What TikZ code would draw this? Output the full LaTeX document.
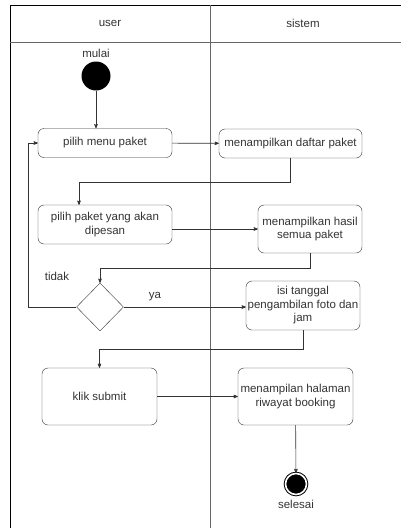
\documentclass[tikz,border=0pt]{standalone}
\usepackage{fontspec}
\setmainfont{Liberation Sans}
\usetikzlibrary{arrows,shapes.geometric}
\definecolor{inkgray}{HTML}{333333}
\definecolor{lanegray}{HTML}{666666}

\begin{document}
\begin{tikzpicture}[x=1pt,y=-1pt,>=stealth',
        every node/.style={font=\fontsize{11.5}{13.5}\selectfont,text=inkgray},
        action/.style={draw=inkgray,rounded corners=6,align=center,inner sep=1pt},
        decision/.style={draw=inkgray,diamond,inner sep=0pt,minimum width=47,minimum height=48},
        flow/.style={->,draw=inkgray,semithick}]

  \useasboundingbox (0,0) rectangle (401,528);

  % swimlanes
  \draw[black,semithick] (10,528) -- (10,5) -- (401,5);
  \draw[lanegray,thick] (10,42) -- (401,42);
  \draw[lanegray,thick] (210,5) -- (210,528);
  \node (user) at (110,23) {user};
  \node (sistem) at (303,23) {sistem};

  \node[circle,fill=black,inner sep=0pt,minimum size=29] (start) at (96,76) {};
  \node[above=0pt] (mulai) at (start.north) {mulai};

  \node[action,minimum width=134,minimum height=29] (menu) at (105,143) {pilih menu paket};
  \node[action,minimum width=143,minimum height=29] (daftar) at (290.5,143.5) {menampilkan daftar paket};
  \node[action,minimum width=134,minimum height=39] (pilih) at (105,224.5) {pilih paket yang akan\\dipesan};
  \node[action,minimum width=104,minimum height=48] (hasil) at (310,229) {menampilkan hasil\\semua paket};
  \node[decision] (cek) at (100,307) {};
  \node[action,minimum width=114,minimum height=49] (isi) at (303,305.5) {isi tanggal\\pengambilan foto dan\\jam};
  \node[action,minimum width=115,minimum height=57] (klik) at (99.5,396.5) {klik submit};
  \node[action,minimum width=115,minimum height=57] (riwayat) at (295.5,396.5) {menampilan halaman\\riwayat booking};

  \node[circle,fill=black,draw=black,double=white,double distance=1.6pt,line width=1pt,inner sep=0pt,minimum size=21] (stop) at (296,484) {};
  \node[below=2pt] (selesai) at (stop.south) {selesai};

  \node (tidak) at (57,276) {tidak};
  \node (ya) at (155,297) {ya};

  \draw[flow] (start) -- (start |- menu.north);
  \draw[flow] (menu) -- (daftar);
  \draw[flow] (pilih.east |- hasil.west) -- (hasil.west);
  \draw[flow] (cek.east) -- (cek.east -| isi.west);
  \draw[flow] (klik) -- (riwayat);
  \draw[flow] (riwayat) -- (stop);

  \draw[flow] (daftar.south) -- ++(0,24) -| ([xshift=-26]pilih.north);
  \draw[flow] (hasil.south) -- ++(0,15) -| (cek.north);
  \draw[flow] (cek.west) -- ++(-48,0) |- (menu.west);
  \draw[flow] (isi.south) -- ++(0,19) -| (klik.north);

\end{tikzpicture}
\end{document}
